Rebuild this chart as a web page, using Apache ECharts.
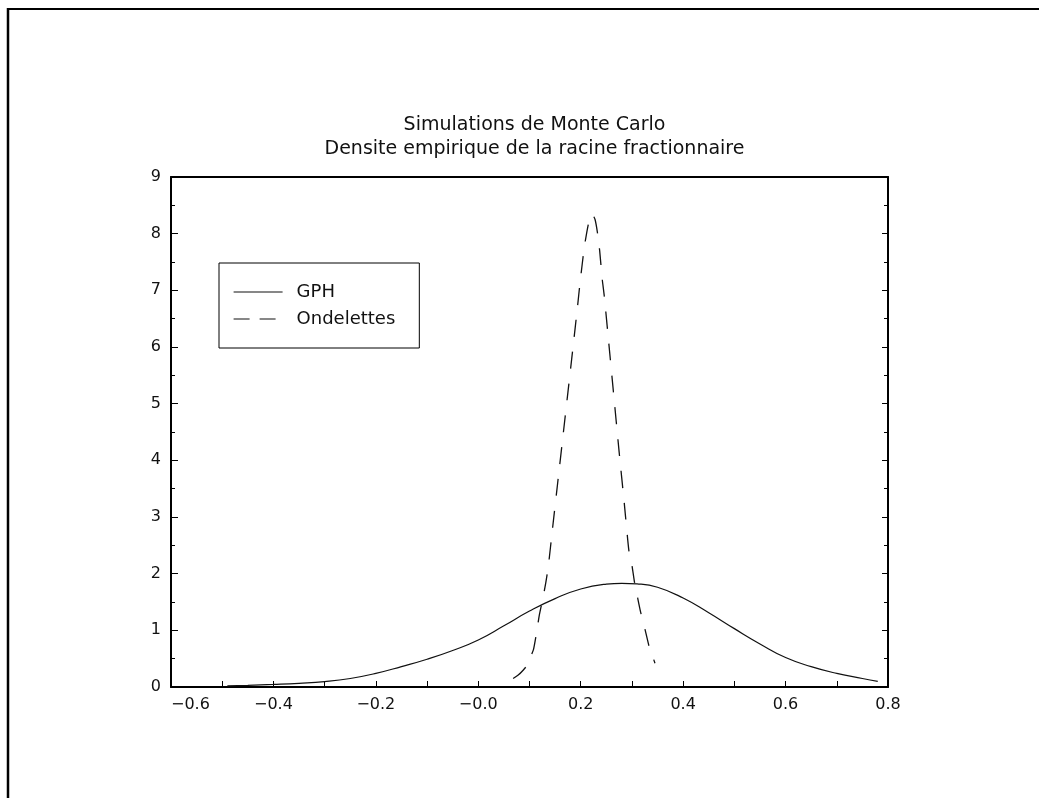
<!DOCTYPE html>
<html><head><meta charset="utf-8">
<script src="https://cdn.jsdelivr.net/npm/echarts@6/dist/echarts.min.js"></script>
<style>html,body{margin:0;padding:0;background:#fff}#c{width:1039px;height:798px}</style>
</head><body><div id="c"></div>
<script>
// ---- data ----
const titleLine1 = 'Simulations de Monte Carlo';
const titleLine2 = 'Densite empirique de la racine fractionnaire';
const seriesNames = ['GPH', 'Ondelettes'];

const gphX = [-0.49,-0.45,-0.40,-0.35,-0.30,-0.25,-0.20,-0.15,-0.10,-0.05,0.00,0.05,0.10,0.15,0.20,0.25,0.28,0.31,0.35,0.40,0.45,0.50,0.55,0.60,0.65,0.70,0.75,0.78];
const gphY = [0.02,0.03,0.045,0.065,0.095,0.15,0.24,0.36,0.49,0.645,0.83,1.08,1.34,1.56,1.73,1.815,1.83,1.82,1.76,1.57,1.31,1.03,0.76,0.52,0.36,0.24,0.15,0.10];

const ondX = [0.068,0.078,0.088,0.097,0.103,0.108,0.114,0.119,0.126,0.132,0.137,0.145,0.155,0.165,0.175,0.185,0.193,0.199,0.207,0.212,0.217,0.222,0.228,0.233,0.237,0.242,0.246,0.255,0.265,0.275,0.285,0.294,0.300,0.305,0.311,0.317,0.326,0.334,0.340,0.345];
const ondY = [0.15,0.21,0.30,0.40,0.55,0.67,0.97,1.26,1.56,1.85,2.15,2.80,3.60,4.40,5.20,6.00,6.65,7.16,7.76,8.03,8.25,8.35,8.25,8.00,7.70,7.20,6.90,6.05,5.10,4.15,3.25,2.41,2.15,1.85,1.58,1.32,1.00,0.70,0.55,0.42];

const xMin = -0.6, xMax = 0.8, xStep = 0.2;
const yMin = 0, yMax = 9, yStep = 1;

// ---- chart ----
const zip = (xs, ys) => xs.map((x, i) => [x, ys[i]]);
const FONT = 'DejaVu Sans';
const fmtX = v => (v <= 1e-9 ? '\u2212' : '') + Math.abs(v).toFixed(1);

const chart = echarts.init(document.getElementById('c'), null, {renderer: 'canvas'});
const axisLine = {show: true, onZero: false, lineStyle: {color: '#000', width: 2}};
chart.setOption({
  backgroundColor: '#fff',
  animation: false,
  title: {
    text: titleLine1 + '\n' + titleLine2,
    left: 529.5, top: 108, textAlign: 'center',
    textStyle: {fontFamily: FONT, fontSize: 19, fontWeight: 'normal', color: '#111', lineHeight: 24}
  },
  grid: {left: 171, right: 151, top: 177, bottom: 111, containLabel: false},
  legend: {
    data: [
      {name: seriesNames[0], lineStyle: {color: '#111', width: 1.2, type: 'solid'}},
      {name: seriesNames[1], lineStyle: {color: '#111', width: 1.2, type: [16, 10]}}
    ],
    orient: 'vertical', left: 219, top: 263,
    padding: [20, 24, 20, 14],
    itemWidth: 49, itemHeight: 14, itemGap: 9,
    borderColor: '#000', borderWidth: 1,
    itemStyle: {color: 'rgba(0,0,0,0)', borderWidth: 0, opacity: 0},
    textStyle: {fontFamily: FONT, fontSize: 18, color: '#111', padding: [0, 0, 0, 9], lineHeight: 18}
  },
  xAxis: [{
    type: 'value', min: xMin, max: xMax, interval: xStep, position: 'bottom',
    axisLine: axisLine,
    axisTick: {show: true, inside: true, length: 6, lineStyle: {color: '#000', width: 1}},
    minorTick: {show: true, splitNumber: 2, length: 6, lineStyle: {color: '#000', width: 1}},
    splitLine: {show: false},
    axisLabel: {formatter: fmtX, fontFamily: FONT, fontSize: 16, color: '#111', margin: 10, showMinLabel: true, showMaxLabel: true, alignMinLabel: 'left'}
  }, {
    type: 'value', min: xMin, max: xMax, interval: xStep, position: 'top',
    axisLine: axisLine, axisTick: {show: false}, axisLabel: {show: false}, splitLine: {show: false}
  }],
  yAxis: [{
    type: 'value', min: yMin, max: yMax, interval: yStep, position: 'left',
    axisLine: axisLine,
    axisTick: {show: true, inside: true, length: 7, lineStyle: {color: '#000', width: 1}},
    minorTick: {show: true, splitNumber: 2, length: 4, lineStyle: {color: '#000', width: 1}},
    splitLine: {show: false},
    axisLabel: {fontFamily: FONT, fontSize: 16, color: '#111', margin: 10}
  }, {
    type: 'value', min: yMin, max: yMax, interval: yStep, position: 'right',
    axisLine: axisLine,
    axisTick: {show: true, inside: true, length: 6, lineStyle: {color: '#000', width: 1}},
    minorTick: {show: true, splitNumber: 2, length: 4, lineStyle: {color: '#000', width: 1}},
    splitLine: {show: false}, axisLabel: {show: false}
  }],
  series: [{
    name: seriesNames[0], type: 'line', data: zip(gphX, gphY),
    xAxisIndex: 0, yAxisIndex: 0, smooth: 0.5, showSymbol: false, symbol: 'none',
    lineStyle: {color: '#111', width: 1.2}, itemStyle: {color: '#111'}
  }, {
    name: seriesNames[1], type: 'line', data: zip(ondX, ondY),
    xAxisIndex: 0, yAxisIndex: 0, smooth: 0.2, showSymbol: false, symbol: 'none',
    lineStyle: {color: '#111', width: 1.3, type: [17, 15]}, itemStyle: {color: '#111'}
  }],
  graphic: [
    {type: 'line', shape: {x1: 7, y1: 9, x2: 1039, y2: 9}, style: {stroke: '#000', lineWidth: 2}, silent: true},
    {type: 'line', shape: {x1: 8, y1: 8, x2: 8, y2: 798}, style: {stroke: '#000', lineWidth: 2.5}, silent: true}
  ]
});
</script>
</body></html>
